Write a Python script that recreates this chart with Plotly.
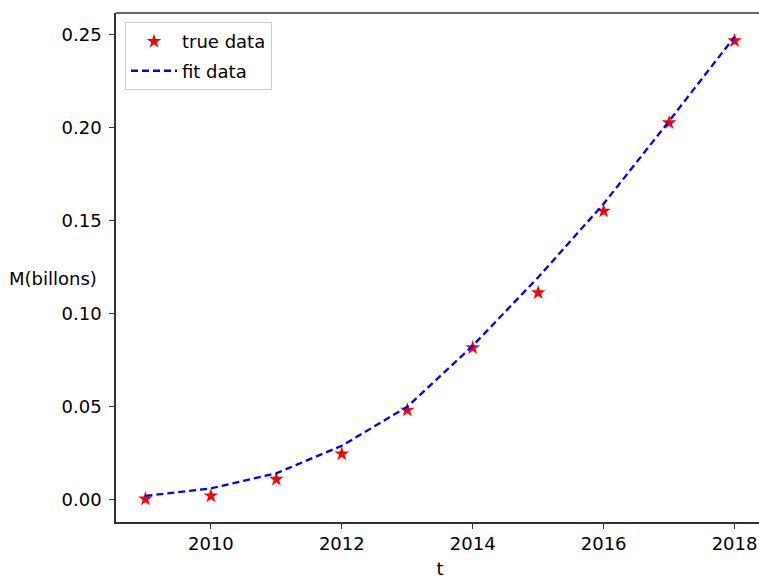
import plotly.graph_objects as go

years = [2009, 2010, 2011, 2012, 2013, 2014, 2015, 2016, 2017, 2018]
true_data = [0.0003, 0.0019, 0.0109, 0.0245, 0.0481, 0.0816, 0.1112, 0.1551, 0.2026, 0.2467]
fit_data = [0.0019, 0.0060, 0.0141, 0.0289, 0.0499, 0.0827, 0.1195, 0.1590, 0.2035, 0.2488]
x_ticks = [2010, 2012, 2014, 2016, 2018]
y_ticks = [0.00, 0.05, 0.10, 0.15, 0.20, 0.25]

FONT = "DejaVu Sans"
FS = 18
W = 764  # plot extends slightly past the 759px window, as in the reference
PW = W - 116

fig = go.Figure()
fig.add_trace(go.Scatter(
    x=years, y=true_data, mode="markers", name="true data", legendgroup="a",
    marker=dict(symbol="star", size=11, color="red", line=dict(width=0)),
))
fig.add_trace(go.Scatter(
    x=years, y=fit_data, mode="lines", name="fit data", legendgroup="b",
    line=dict(color="blue", width=2.3, dash="7px,4px"),
))

fig.update_layout(
    width=W, height=579,
    margin=dict(l=116, r=0, t=13, b=57, autoexpand=False),
    paper_bgcolor="white", plot_bgcolor="white",
    font=dict(family=FONT, size=FS, color="black"),
    showlegend=True,
    legend=dict(
        x=9 / PW, y=0.982, xanchor="left", yanchor="top",
        bgcolor="rgba(255,255,255,0.8)", bordercolor="#cccccc", borderwidth=1,
        font=dict(family=FONT, size=FS, color="black"),
        tracegroupgap=3, itemwidth=46,
    ),
    xaxis=dict(
        range=[2008.55, 2018.45],
        tickmode="array", tickvals=x_ticks, ticktext=[str(v) for v in x_ticks],
        showgrid=False, zeroline=False, automargin=False,
        showline=True, linecolor="#333333", linewidth=1.5, mirror=False,
        ticks="outside", ticklen=5, tickcolor="#333333", tickwidth=1.3,
        tickfont=dict(family=FONT, size=FS, color="black"),
        title=dict(text="t", font=dict(family=FONT, size=FS, color="black"), standoff=14),
    ),
    yaxis=dict(
        range=[-0.0121, 0.2616],
        tickmode="array", tickvals=y_ticks, ticktext=[f"{v:.2f}" for v in y_ticks],
        showgrid=False, zeroline=False, automargin=False,
        showline=True, linecolor="#333333", linewidth=1.5, mirror=False,
        ticks="outside", ticklen=5, tickcolor="#333333", tickwidth=1.3,
        ticklabelstandoff=4,
        tickfont=dict(family=FONT, size=FS, color="black"),
    ),
    shapes=[dict(
        type="line", xref="paper", yref="paper", x0=0, x1=1, y0=1, y1=1,
        line=dict(color="#333333", width=1.5), layer="above",
    )],
    annotations=[dict(
        text="M(billons)", xref="paper", yref="paper",
        x=(99 - 116) / PW, y=(522 - 278) / 509, xanchor="right", yanchor="middle",
        showarrow=False, font=dict(family=FONT, size=FS, color="black"),
    )],
)

fig.write_html(
    "out.html",
    config={"displayModeBar": False},
    post_script="document.documentElement.style.overflow='hidden';document.body.style.margin='0';document.body.style.overflow='hidden';",
)
